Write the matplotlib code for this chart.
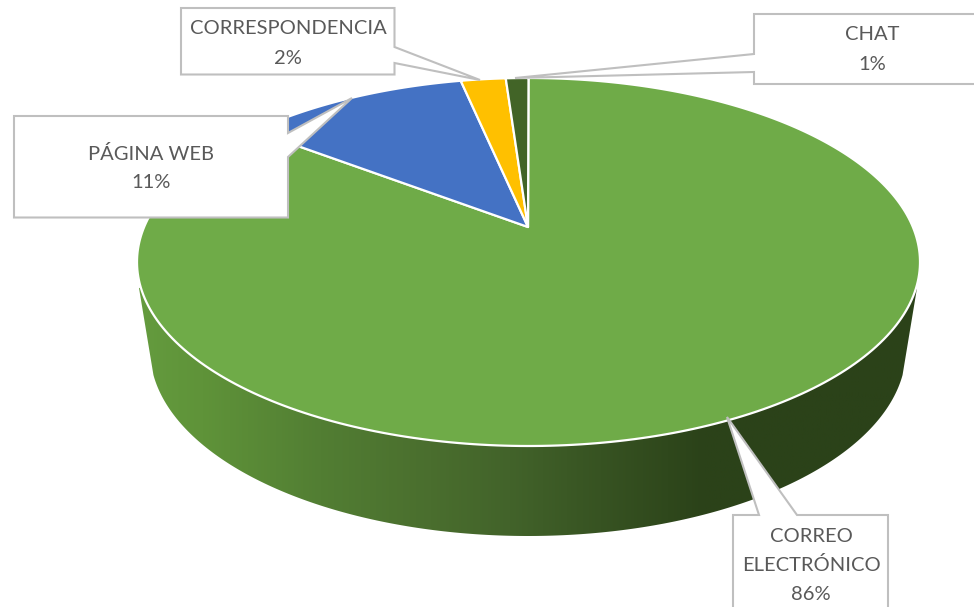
import numpy as np
import matplotlib
matplotlib.use("Agg")
from matplotlib import pyplot as plt
from matplotlib.colors import LinearSegmentedColormap
from matplotlib.patches import Polygon

plt.rcParams['font.family'] = ['Lato', 'DejaVu Sans']

# porcentajes por canal, en orden antihorario desde las 12
categories = ["CHAT", "CORRESPONDENCIA", "PÁGINA WEB", "CORREO ELECTRÓNICO"]
shares = [1, 2, 11, 86]
colors = ["#426427", "#ffc000", "#4472c4", "#6fab48"]

# cara superior: elipse con perspectiva, el centro de la tarta queda en (528, 227)
cx, cy, rx, ry = 528.5, 262.0, 391.5, 184.0
apex_y = 227.0
top_y, bottom_y = cy - ry, cy + ry
c = (2 * apex_y - top_y - bottom_y) / (top_y - bottom_y)
a = top_y * (1 + c) - apex_y
c_x = 0.08

# borde inferior del lateral
cx2, cy2, rx2, ry2 = 528.0, 350.0, 378.0, 186.0

side_stops = [(0.0, "#649b3e"), (0.08, "#5f9339"), (0.233, "#527e33"),
              (0.374, "#4a6e2e"), (0.477, "#42632a"), (0.593, "#375322"),
              (0.727, "#2b4219"), (1.0, "#2b4219")]


def rim(theta):
    # rayo desde el centro en perspectiva hasta cortar la elipse
    d = 1 + c * np.cos(theta)
    dx = rx * np.sin(theta) / (1 + c_x * np.cos(theta))
    dy = (a * np.cos(theta) + apex_y) / d - apex_y
    off = apex_y - cy
    qa = (dx / rx) ** 2 + (dy / ry) ** 2
    qb = 2 * dy * off / ry ** 2
    qc = (off / ry) ** 2 - 1
    s = (-qb + np.sqrt(qb ** 2 - 4 * qa * qc)) / (2 * qa)
    return cx + s * dx, apex_y + s * dy


fig = plt.figure(figsize=(9.74, 6.07), dpi=100)
ax = fig.add_axes([0, 0, 1, 1])

# lateral con degradado, recortado a la silueta
t = np.linspace(np.pi - 0.135, 0.135, 200)
lower = np.column_stack([cx2 + rx2 * np.cos(t), cy2 + ry2 * np.sin(t)])
upper = np.array([[917, 288], [cx, cy - 40], [139, 288]])
side = Polygon(np.vstack([[[139, 288]], lower, upper]), closed=True,
               facecolor="none", edgecolor="none")
ax.add_patch(side)
grad = LinearSegmentedColormap.from_list("lateral", side_stops)
img = ax.imshow(np.linspace(0, 1, 512).reshape(1, -1), cmap=grad, vmin=0, vmax=1,
                extent=(139, 917, 540, 250), aspect="auto", zorder=1)
img.set_clip_path(side)
ax.set_xlim(0, 974)
ax.set_ylim(607, 0)
ax.axis("off")

# porciones de la cara superior
edges = np.cumsum([0] + shares) / sum(shares)
for i in range(len(shares) - 1, -1, -1):
    th = -2 * np.pi * np.linspace(edges[i], edges[i + 1], 300)
    x, y = rim(th)
    pts = np.column_stack([np.r_[cx - 0.5, x], np.r_[apex_y, y]])
    ax.add_patch(Polygon(pts, closed=True, facecolor=colors[i], edgecolor="white",
                         linewidth=1.6, joinstyle="round", zorder=2))


def callout(box, pointer, lines, text_xy, fontsize=14.5):
    x0, y0, x1, y1 = box
    side_name, p0, tip, p1 = pointer
    if side_name == "right":
        pts = [(x0, y0), (x1, y0), (x1, p0), tip, (x1, p1), (x1, y1), (x0, y1)]
    elif side_name == "left":
        pts = [(x0, y0), (x1, y0), (x1, y1), (x0, y1), (x0, p1), tip, (x0, p0)]
    else:
        pts = [(x0, y0), (p0, y0), tip, (p1, y0), (x1, y0), (x1, y1), (x0, y1)]
    ax.add_patch(Polygon(pts, closed=True, facecolor="white", edgecolor="#bfbfbf",
                         linewidth=1.5, joinstyle="miter", zorder=3))
    for (tx, ty), line in zip(text_xy, lines):
        ax.text(tx, ty, line, ha="center", va="center", color="#595959",
                fontsize=fontsize, zorder=4)


callout((181, 8, 394.5, 74.5), ("right", 47, (480, 80), 63),
        ["CORRESPONDENCIA", "2%"], [(288, 29), (288, 58)])
callout((754, 14, 990, 84), ("left", 54, (515, 78), 72),
        ["CHAT", "1%"], [(872, 35), (872, 65)])
callout((14, 116, 288, 217.5), ("right", 133, (352, 98), 157),
        ["PÁGINA WEB", "11%"], [(151, 154), (151, 183)])
callout((733, 515, 888, 640), ("top", 759, (727, 417), 797),
        ["CORREO", "ELECTRÓNICO", "86%"], [(811, 536), (811, 565), (811, 595)])

fig.savefig("out.png", dpi=100)
